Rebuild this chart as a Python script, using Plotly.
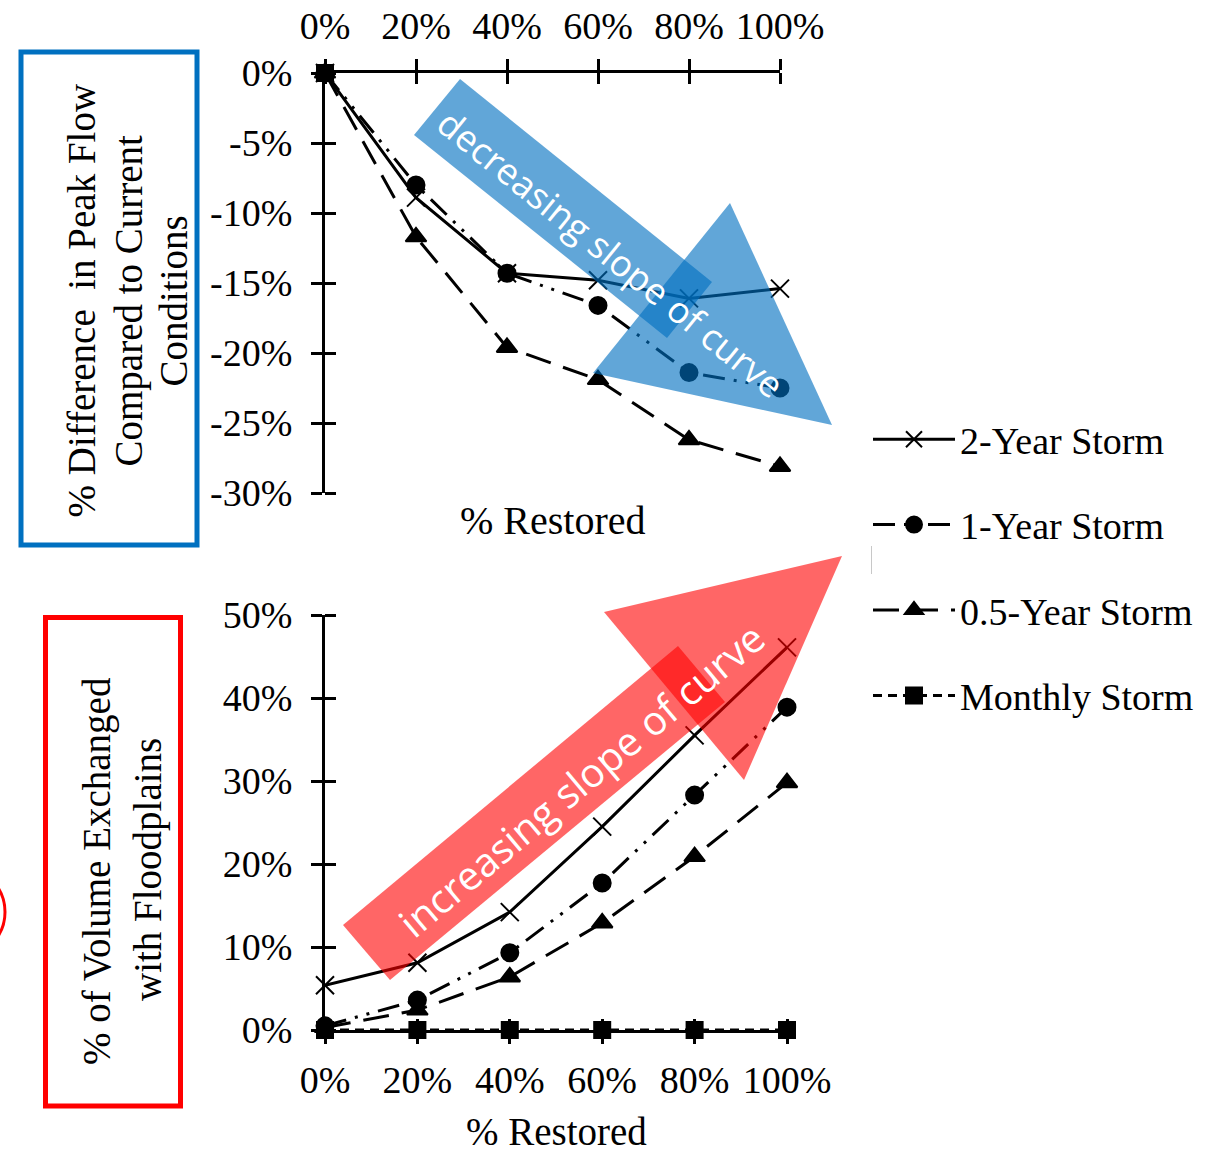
import plotly.graph_objects as go

W, H = 1211, 1153

# ---- data -------------------------------------------------------------
restored = [0, 20, 40, 60, 80, 100]          # % of reach restored
restored_labels = ["0%", "20%", "40%", "60%", "80%", "100%"]
series_names = ["2-Year Storm", "1-Year Storm", "0.5-Year Storm", "Monthly Storm"]

# % difference in peak flow compared to current conditions
peak_2yr = [0, -8.9, -14.3, -14.8, -16.1, -15.4]
peak_1yr = [0, -8.0, -14.3, -16.6, -21.4, -22.5]
peak_05yr = [0, -11.7, -19.6, -21.9, -26.2, -28.1]
peak_monthly = [0, None, None, None, None, None]

# % of volume exchanged with floodplains
vol_2yr = [5.4, 8.1, 14.2, 24.5, 35.5, 46.1]
vol_1yr = [0.5, 3.6, 9.3, 17.7, 28.3, 38.9]
vol_05yr = [0.3, 2.4, 6.4, 12.9, 20.9, 29.8]
vol_monthly = [0, 0, 0, 0, 0, 0]

peak_ticks = [0, -5, -10, -15, -20, -25, -30]
peak_labels = ["0%", "-5%", "-10%", "-15%", "-20%", "-25%", "-30%"]
vol_ticks = [0, 10, 20, 30, 40, 50]
vol_labels = ["0%", "10%", "20%", "30%", "40%", "50%"]

# ---- styling ----------------------------------------------------------
SERIF = "Liberation Serif"
SANS = "Open Sans"
styles = {
    "2-Year Storm": dict(dash="solid", symbol="x-thin-open", size=18),
    "1-Year Storm": dict(dash="22px,9px,3px,9px,3px,9px", symbol="circle", size=17),
    "0.5-Year Storm": dict(dash="26px,13px", symbol="triangle-up", size=18),
    "Monthly Storm": dict(dash="9px,6px", symbol="square", size=16),
}


def px(xp):
    return xp / W


def py(yp):
    return 1 - yp / H


fig = go.Figure()

top_series = [peak_2yr, peak_1yr, peak_05yr, peak_monthly]
bottom_series = [vol_2yr, vol_1yr, vol_05yr, vol_monthly]

for i, name in enumerate(series_names):
    st = styles[name]
    fig.add_trace(go.Scatter(
        x=restored, y=top_series[i], name=name, mode="lines+markers",
        xaxis="x", yaxis="y", cliponaxis=False,
        legendgroup=name, connectgaps=False,
        line=dict(color="black", width=3, dash=st["dash"]),
        marker=dict(symbol=st["symbol"], size=st["size"], color="black",
                    line=dict(color="black", width=2)),
    ))
for i, name in enumerate(series_names):
    st = styles[name]
    fig.add_trace(go.Scatter(
        x=restored, y=bottom_series[i], name=name, mode="lines+markers",
        xaxis="x2", yaxis="y2", cliponaxis=False, showlegend=False,
        legendgroup=name,
        line=dict(color="black", width=3, dash=st["dash"]),
        marker=dict(symbol=st["symbol"], size=st["size"], color="black",
                    line=dict(color="black", width=2)),
    ))


def axis(domain, anchor, rng, vals, labels, standoff, **kw):
    # outside major ticks plus inside minor ticks at the same values -> crossing ticks
    return dict(
        domain=domain, anchor=anchor, range=rng, automargin=False,
        showgrid=False, zeroline=False, showline=True, linecolor="black",
        linewidth=3, ticks="outside", ticklen=11, tickwidth=3, tickcolor="black",
        tickmode="array", tickvals=vals, ticktext=labels,
        ticklabelstandoff=standoff,
        tickfont=dict(family=SERIF, size=38, color="black"),
        minor=dict(tickmode="array", tickvals=vals, ticks="inside", ticklen=11,
                   tickwidth=3, tickcolor="black", showgrid=False),
        **kw,
    )


top_xdom = [px(325), px(780)]
top_ydom = [py(493), py(73)]
bot_xdom = [px(325), px(787)]
bot_ydom = [py(1030), py(615)]

fig.update_layout(
    template="none",
    width=W, height=H, margin=dict(l=0, r=0, t=0, b=0, pad=0),
    paper_bgcolor="white", plot_bgcolor="rgba(0,0,0,0)",
    xaxis=axis(top_xdom, "y", [0, 100], restored, restored_labels, 5, side="top"),
    yaxis=axis(top_ydom, "x", [-30, 0], peak_ticks, peak_labels, 11),
    xaxis2=axis(bot_xdom, "y2", [0, 100], restored, restored_labels, 3),
    yaxis2=axis(bot_ydom, "x2", [0, 50], vol_ticks, vol_labels, 11),
    legend=dict(x=px(868), y=py(408), xanchor="left", yanchor="top",
                font=dict(family=SERIF, size=38, color="black"),
                itemwidth=82, tracegroupgap=33, bgcolor="rgba(0,0,0,0)",
                borderwidth=0),
    showlegend=True,
)

# ---- annotation arrows, boxes and titles ------------------------------
def poly(points):
    return "M " + " L ".join(f"{px(a)},{py(b)}" for a, b in points) + " Z"

BLUE = "#0070C0"
RED = "#FF0000"
shapes = [
    # blue arrow: shaft + head
    dict(type="path", path=poly([(414, 135), (460, 79), (712, 282), (667, 338)]),
         fillcolor=BLUE, opacity=0.62, line=dict(width=0)),
    dict(type="path", path=poly([(593, 373), (730, 203), (832, 425)]),
         fillcolor=BLUE, opacity=0.62, line=dict(width=0)),
    # red arrow: shaft + head
    dict(type="path", path=poly([(343, 925), (390, 980), (725, 702), (678, 646)]),
         fillcolor=RED, opacity=0.6, line=dict(width=0)),
    dict(type="path", path=poly([(604, 612), (842, 556), (744, 780)]),
         fillcolor=RED, opacity=0.6, line=dict(width=0)),
    # outline boxes round the y-axis titles
    dict(type="rect", x0=px(21), x1=px(197), y0=py(52), y1=py(545),
         line=dict(color=BLUE, width=5)),
    dict(type="rect", x0=px(45.5), x1=px(180.5), y0=py(617.5), y1=py(1106),
         line=dict(color=RED, width=5)),
    # partial red circle at the left edge
    dict(type="circle", x0=px(-85), x1=px(5), y0=py(957), y1=py(867),
         line=dict(color=RED, width=3)),
    # thin grey rule beside the legend
    dict(type="line", x0=px(871.5), x1=px(871.5), y0=py(546), y1=py(574),
         line=dict(color="#c8c8c8", width=1)),
]
for s in shapes:
    s.setdefault("xref", "paper")
    s.setdefault("yref", "paper")
    s.setdefault("layer", "above")
fig.update_layout(shapes=shapes)

ann = []


def text(x, y, t, size, angle=0, family=SERIF, color="black"):
    ann.append(dict(x=px(x), y=py(y), xref="paper", yref="paper", text=t,
                    showarrow=False, textangle=angle, xanchor="center",
                    yanchor="middle", font=dict(family=family, size=size, color=color)))


# y-axis titles, one annotation per line
text(81.5, 301, "% Difference  in Peak Flow", 39, -90)
text(128.5, 301, "Compared to Current", 39, -90)
text(173.5, 301, "Conditions", 39, -90)
text(97, 871, "% of Volume Exchanged", 39, -90)
text(148, 870, "with Floodplains", 39, -90)
# x-axis titles
text(553, 520, "% Restored", 40)
text(556, 1131, "% Restored", 39)
# arrow captions
text(611, 253, "decreasing slope of curve", 36.5, 39, SANS, "white")
text(581, 779, "increasing slope of curve", 40, -40, SANS, "white")
fig.update_layout(annotations=ann)

fig.write_html("out.html")
